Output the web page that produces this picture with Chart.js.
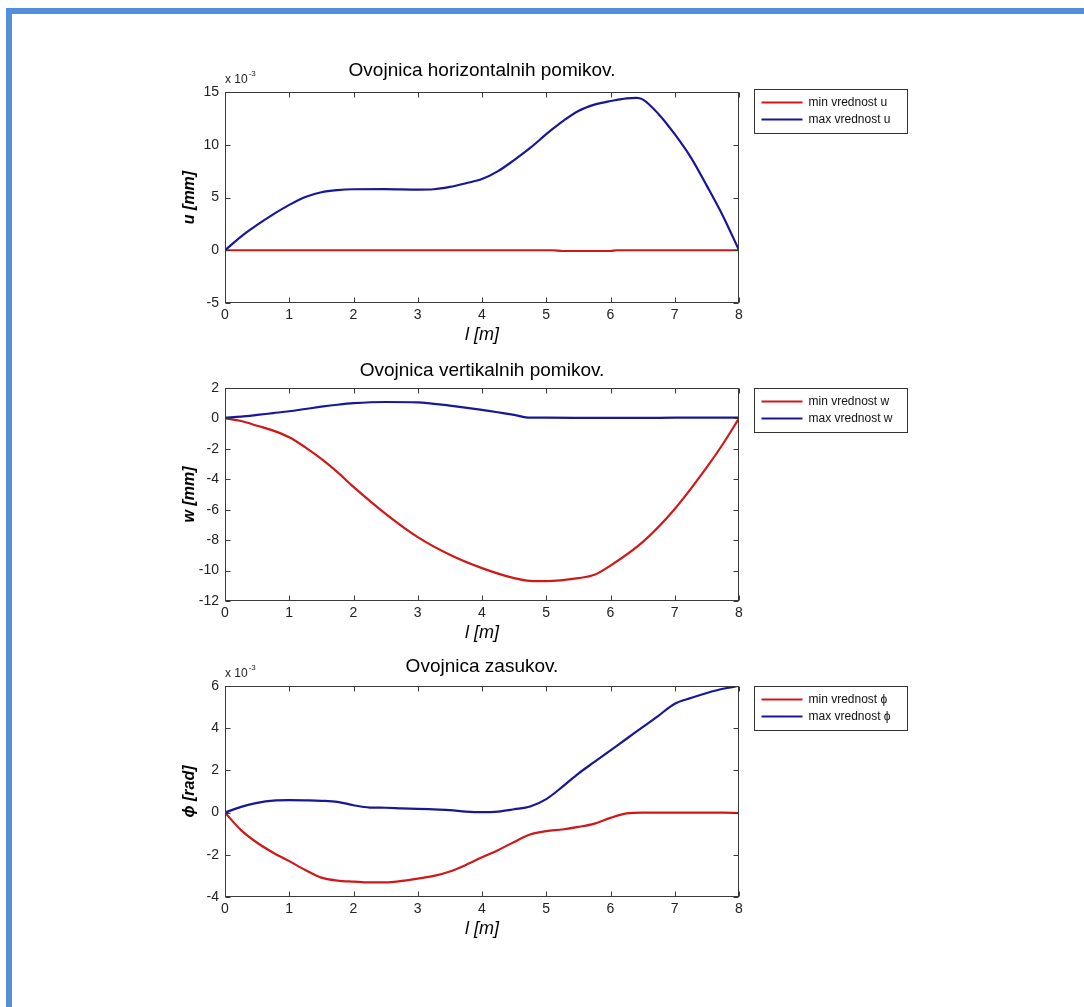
<!DOCTYPE html>
<html>
<head>
<meta charset="utf-8">
<title>Ovojnice</title>
<script src="https://cdn.jsdelivr.net/npm/chart.js@4.4.0/dist/chart.umd.min.js"></script>
<style>
  body { margin: 0; background: #fff; width: 1084px; height: 1007px; overflow: hidden; position: relative; }
  .frame-top { position: absolute; left: 6px; top: 8px; width: 1078px; height: 6px; background: #5390d9; }
  .frame-left { position: absolute; left: 6px; top: 8px; width: 6px; height: 999px; background: #5390d9; }
  canvas { position: absolute; left: 0; }
</style>
</head>
<body>
<div class="frame-top"></div>
<div class="frame-left"></div>
<canvas id="plotU"></canvas>
<canvas id="plotW"></canvas>
<canvas id="plotPhi"></canvas>

<script>
// ===== DATA =====
const xTicks = [0, 1, 2, 3, 4, 5, 6, 7, 8];

// horizontalni pomiki (vrednosti x 10^-3 mm)
const uX   = [0, 0.25, 0.5, 0.75, 1, 1.25, 1.5, 1.75, 2, 2.5, 3, 3.25, 3.5, 3.75, 4, 4.25, 4.5, 4.75, 5, 5.1, 5.25, 5.5, 5.75, 6, 6.1, 6.25, 6.4, 6.5, 6.75, 7, 7.25, 7.5, 7.75, 8];
const uMin = [0, 0, 0, 0, 0, 0, 0, 0, 0, 0, 0, 0, 0, 0, 0, 0, 0, 0, 0, 0, -0.07, -0.07, -0.07, -0.07, 0, 0, 0, 0, 0, 0, 0, 0, 0, 0];
const uMax = [0, 1.3, 2.4, 3.4, 4.3, 5.05, 5.5, 5.7, 5.78, 5.8, 5.75, 5.78, 6.0, 6.35, 6.75, 7.5, 8.55, 9.7, 11.0, 11.5, 12.2, 13.2, 13.8, 14.15, 14.25, 14.4, 14.45, 14.3, 12.9, 11.0, 8.8, 6.1, 3.25, 0];
const uTicks = [-5, 0, 5, 10, 15];

// vertikalni pomiki (mm)
const wX   = [0, 0.25, 0.5, 0.75, 1, 1.25, 1.5, 1.75, 2, 2.5, 3, 3.5, 4, 4.5, 4.75, 5, 5.5, 5.75, 6, 6.5, 7, 7.5, 7.75, 8];
const wMin = [0, -0.17, -0.48, -0.8, -1.24, -1.9, -2.66, -3.53, -4.5, -6.27, -7.8, -8.96, -9.84, -10.5, -10.68, -10.7, -10.5, -10.28, -9.67, -8.13, -5.95, -3.2, -1.68, 0];
const wMax = [0.05, 0.12, 0.23, 0.35, 0.47, 0.62, 0.77, 0.9, 1.0, 1.08, 1.06, 0.84, 0.56, 0.23, 0.05, 0.05, 0.04, 0.03, 0.03, 0.03, 0.05, 0.05, 0.05, 0.05];
const wTicks = [-12, -10, -8, -6, -4, -2, 0, 2];

// zasuki (vrednosti x 10^-3 rad)
const phiX   = [0, 0.25, 0.5, 0.75, 1, 1.25, 1.5, 1.75, 2, 2.25, 2.5, 2.75, 3, 3.25, 3.5, 3.75, 4, 4.25, 4.5, 4.75, 5, 5.25, 5.5, 5.75, 6, 6.25, 6.5, 6.75, 7, 7.25, 7.5, 7.75, 8];
const phiMin = [0, -0.83, -1.43, -1.9, -2.3, -2.72, -3.08, -3.22, -3.27, -3.31, -3.31, -3.24, -3.13, -3.0, -2.79, -2.48, -2.12, -1.78, -1.39, -1.04, -0.88, -0.8, -0.68, -0.52, -0.25, -0.04, 0, 0, 0, 0, 0, 0, -0.02];
const phiMax = [0, 0.27, 0.46, 0.57, 0.59, 0.58, 0.56, 0.51, 0.35, 0.24, 0.23, 0.2, 0.18, 0.15, 0.12, 0.05, 0.02, 0.05, 0.16, 0.29, 0.64, 1.22, 1.85, 2.4, 2.95, 3.5, 4.05, 4.6, 5.16, 5.43, 5.67, 5.87, 6.0];
const phiTicks = [-4, -2, 0, 2, 4, 6];

// ===== HELPERS =====
const FONT = 'Arial, "Liberation Sans", "DejaVu Sans", sans-serif';
const RED = 'rgb(208, 24, 24)';
const BLUE = 'rgb(24, 24, 150)';

function points(xs, ys) {
  return xs.map((x, i) => ({ x: x, y: ys[i] }));
}

// okvir osi z notranjimi oznakami (kot v Matlabu)
const matlabAxes = {
  id: 'matlabAxes',
  afterDatasetsDraw(chart, args, opts) {
    const { ctx, chartArea: a, scales } = chart;
    const L = Math.round(a.left) + 0.5, R = Math.round(a.right) - 0.5;
    const T = Math.round(a.top) + 0.5, B = Math.round(a.bottom) - 0.5;
    ctx.save();
    ctx.strokeStyle = '#3a3a3a';
    ctx.lineWidth = 1;
    ctx.beginPath();
    scales.x.ticks.forEach((t) => {
      const px = Math.round(scales.x.getPixelForValue(t.value)) + 0.5;
      ctx.moveTo(px, B); ctx.lineTo(px, B - 5);
      ctx.moveTo(px, T); ctx.lineTo(px, T + 5);
    });
    scales.y.ticks.forEach((t) => {
      const py = Math.round(scales.y.getPixelForValue(t.value)) + 0.5;
      ctx.moveTo(L, py); ctx.lineTo(L + 5, py);
      ctx.moveTo(R, py); ctx.lineTo(R - 5, py);
    });
    ctx.stroke();
    ctx.strokeRect(L, T, R - L, B - T);

    if (opts.exponent) {
      ctx.fillStyle = '#222';
      ctx.textBaseline = 'alphabetic';
      ctx.textAlign = 'left';
      ctx.font = '12px ' + FONT;
      const base = 'x 10';
      ctx.fillText(base, a.left, a.top - 9);
      const w = ctx.measureText(base).width;
      ctx.font = '8px ' + FONT;
      ctx.fillText(opts.exponent, a.left + w + 1, a.top - 16);
    }
    ctx.restore();
  }
};

// legenda v okvirju desno od osi
const boxLegend = {
  id: 'boxLegend',
  afterDraw(chart, args, opts) {
    const { ctx, chartArea: a } = chart;
    const x0 = Math.round(a.right) + 15.5;
    const y0 = Math.round(a.top) + (opts.dy || 0) + 0.5;
    ctx.save();
    ctx.strokeStyle = '#333';
    ctx.lineWidth = 1;
    ctx.strokeRect(x0, y0, 153, 44);
    ctx.font = '12px ' + FONT;
    ctx.textBaseline = 'middle';
    ctx.textAlign = 'left';
    chart.data.datasets.forEach((ds, i) => {
      const y = y0 + 13 + i * 17;
      ctx.strokeStyle = ds.borderColor;
      ctx.lineWidth = 2;
      ctx.beginPath();
      ctx.moveTo(x0 + 7, y);
      ctx.lineTo(x0 + 48, y);
      ctx.stroke();
      ctx.fillStyle = '#111';
      ctx.fillText(ds.label, x0 + 54, y);
    });
    ctx.restore();
  }
};

function makePlot(id, o) {
  const canvas = document.getElementById(id);
  const xH = 43;
  canvas.width = 1084;
  canvas.height = 50 + o.h + xH;
  canvas.style.top = (o.top - 50) + 'px';
  const titlePadTop = o.titleY - (o.top - 50) - 11.4;

  return new Chart(canvas, {
    type: 'line',
    data: {
      datasets: [
        { label: o.labels[0], data: points(o.x, o.min), borderColor: RED, order: 1 },
        { label: o.labels[1], data: points(o.x, o.max), borderColor: BLUE, order: 0 }
      ]
    },
    options: {
      responsive: false,
      animation: false,
      layout: { padding: { left: 180, right: 1084 - 739, top: 0, bottom: 0 } },
      elements: {
        line: { borderWidth: 2.2, cubicInterpolationMode: 'monotone', fill: false },
        point: { radius: 0 }
      },
      scales: {
        x: {
          type: 'linear',
          min: 0, max: 8,
          grid: { display: false, drawTicks: false },
          border: { display: false },
          afterBuildTicks: (s) => { s.ticks = xTicks.map((v) => ({ value: v })); },
          afterFit: (s) => { s.height = xH; },
          ticks: { font: { size: 14, family: FONT }, color: '#222', padding: 4, maxRotation: 0 },
          title: { display: true, text: 'l [m]', padding: 0, color: '#000',
                   font: { size: 18, style: 'italic', family: FONT } }
        },
        y: {
          min: o.yTicks[0], max: o.yTicks[o.yTicks.length - 1],
          grid: { display: false, drawTicks: false },
          border: { display: false },
          afterBuildTicks: (s) => { s.ticks = o.yTicks.map((v) => ({ value: v })); },
          afterFit: (s) => { s.width = 45; },
          ticks: { font: { size: 14, family: FONT }, color: '#222', padding: 6 },
          title: { display: true, text: o.yLabel, padding: 0, color: '#000',
                   font: { size: 16, style: 'italic', weight: 'bold', family: FONT } }
        }
      },
      plugins: {
        legend: { display: false },
        tooltip: { enabled: false },
        title: {
          display: true, text: o.title, fullSize: false, color: '#000',
          font: { size: 19, weight: 'normal', family: FONT },
          padding: { top: titlePadTop, bottom: 50 - titlePadTop - 22.8 }
        },
        matlabAxes: { exponent: o.exponent },
        boxLegend: { dy: o.legendDy }
      }
    },
    plugins: [matlabAxes, boxLegend]
  });
}

// ===== RISANJE =====
document.addEventListener('DOMContentLoaded', function () {
  makePlot('plotU', {
    top: 92, h: 211.5, titleY: 70.5,
    title: 'Ovojnica horizontalnih pomikov.',
    yLabel: 'u [mm]', yTicks: uTicks, exponent: '-3', legendDy: -3,
    x: uX, min: uMin, max: uMax,
    labels: ['min vrednost u', 'max vrednost u']
  });
  makePlot('plotW', {
    top: 387.5, h: 213.5, titleY: 370,
    title: 'Ovojnica vertikalnih pomikov.',
    yLabel: 'w [mm]', yTicks: wTicks, exponent: null, legendDy: 0,
    x: wX, min: wMin, max: wMax,
    labels: ['min vrednost w', 'max vrednost w']
  });
  makePlot('plotPhi', {
    top: 685.5, h: 211.5, titleY: 666.5,
    title: 'Ovojnica zasukov.',
    yLabel: '\u03d5 [rad]', yTicks: phiTicks, exponent: '-3', legendDy: 0,
    x: phiX, min: phiMin, max: phiMax,
    labels: ['min vrednost \u03d5', 'max vrednost \u03d5']
  });
});
</script>
</body>
</html>
